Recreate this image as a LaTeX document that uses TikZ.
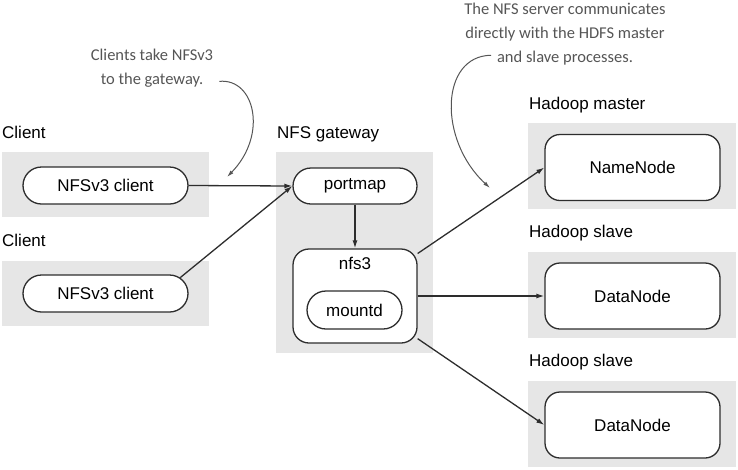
\documentclass[tikz,border=0pt]{standalone}
\usepackage{fontspec}
\setmainfont{Liberation Sans}
\newfontfamily\notefont{Carlito}
\usetikzlibrary{arrows.meta}
\usetikzlibrary{shapes.misc}

\definecolor{panelgray}{RGB}{230,230,230}
\definecolor{linegray}{RGB}{45,45,45}
\definecolor{notegray}{RGB}{85,85,85}

\tikzset{
  panel/.style={fill=panelgray, draw=none},
  pill/.style={rounded rectangle, draw=linegray, line width=1.3pt, fill=white,
    minimum height=37pt, inner sep=0pt, font=\fontsize{17}{20}\selectfont},
  box/.style={rectangle, rounded corners=15pt, draw=linegray, line width=1.3pt, fill=white,
    minimum width=175pt, minimum height=66pt, inner sep=0pt, font=\fontsize{17}{20}\selectfont},
  title/.style={anchor=west, inner sep=0pt, font=\fontsize{17}{20}\selectfont},
  link/.style={draw=linegray, line width=1.3pt, -{Latex[length=8pt, width=5pt]}},
  note/.style={text=notegray, inner sep=0pt, align=center, font=\notefont\fontsize{16.5}{24}\selectfont},
  notearrow/.style={draw=notegray, line width=1pt, -{Latex[length=7pt, width=4pt]}}
}

\begin{document}
\begin{tikzpicture}[x=1pt, y=-1pt]
\useasboundingbox (0,0) rectangle (738,469);

% grey areas
\fill[panel] (2,152) rectangle (209,217);
\fill[panel] (2,261) rectangle (209,326);
\fill[panel] (276,152) rectangle (433,353);
\fill[panel] (528,123) rectangle (736,209);
\fill[panel] (528,252) rectangle (736,338);
\fill[panel] (528,381) rectangle (736,467);

\node[title] (clientA) at (2,132) {Client};
\node[title] (clientB) at (2,240) {Client};
\node[title] (gateway) at (277,134) {NFS gateway};
\node[title] (master) at (529,105) {Hadoop master};
\node[title] (slaveA) at (529,233) {Hadoop slave};
\node[title] (slaveB) at (529,362) {Hadoop slave};

\node[pill, minimum width=165pt] (nfsclientA) at (105.5,185.5) {NFSv3 client};
\node[pill, minimum width=165pt] (nfsclientB) at (105.5,293.5) {NFSv3 client};
\node[pill, minimum width=124pt, minimum height=36pt] (portmap) at (355,186) {portmap};
\node[box, minimum width=124pt, minimum height=94pt, rounded corners=16pt,
  label={[title, anchor=north, yshift=-9pt]north:nfs3}] (nfs) at (355,296) {};
\node[pill, minimum width=95pt, minimum height=38pt] (mountd) at (354.5,310) {mountd};
\node[box] (namenode) at (632.5,167.5) {NameNode};
\node[box] (datanodeA) at (632.5,296) {DataNode};
\node[box] (datanodeB) at (632.5,425) {DataNode};

\draw[link] (nfsclientA.east) -- (portmap.west);
\draw[link] (nfsclientB.12) -- (portmap.west);
\draw[link] (portmap.south) -- (nfs.north);
\draw[link] (nfs) -- (namenode.west);
\draw[link] (nfs.east) -- (datanodeA.west);
\draw[link] (nfs) -- (datanodeB.west);

% handwritten notes
\node[note] (noteA) at (152,68) {Clients take NFSv3\\to the gateway.};
\node[note] (noteB) at (565,34) {The NFS server communicates\\directly with the HDFS master\\and slave processes.};
\coordinate (tipA) at (227,177);
\coordinate (tipB) at (490,188);
\draw[notearrow] (noteA.south east) ++(6,-6) .. controls (255,78) and (268,135) .. (tipA);
\draw[notearrow] (noteB.south) ++(-74,-10) .. controls (440,56) and (438,140) .. (tipB);

\end{tikzpicture}
\end{document}
